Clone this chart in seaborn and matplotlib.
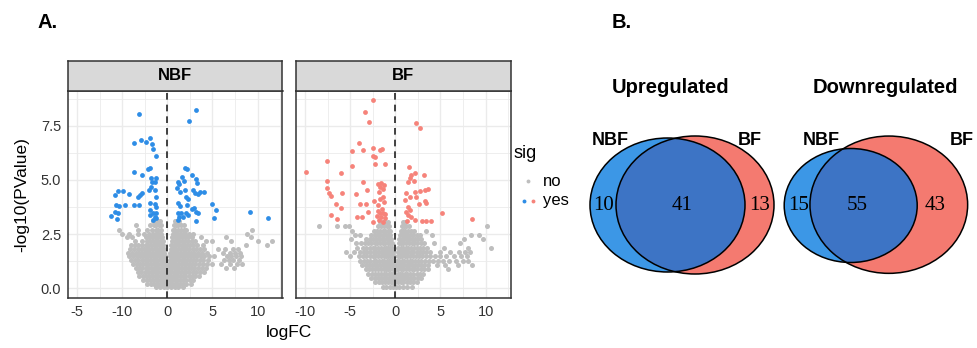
import matplotlib
matplotlib.use("Agg")
import matplotlib.pyplot as plt
import pandas as pd
import seaborn as sns
from matplotlib.patches import Ellipse
from matplotlib.lines import Line2D

sns.set_style("white")
plt.rcParams["font.family"] = ["Liberation Sans", "DejaVu Sans"]
plt.rcParams["text.color"] = "black"
plt.rcParams["axes.labelcolor"] = "black"

# ---------------- data ----------------
# significant genes (logFC, -log10 p)
NBF_YES_X = [-3.16, -3.71, -2.87, -2.32, -1.95, -1.69, -1.54, -1.21, -3.68, -2.79, -2.10, -1.95,
             -1.76, -1.29, -1.73, -1.40, -1.76, -1.40, -2.02, -1.21, -3.05, -3.20, -2.76, -4.19,
             -4.89, -5.44, -5.81, -4.71, -3.71, -3.13, -1.88, -1.40, -1.21, -5.63, -5.40, -5.74,
             -5.48, -6.25, -5.55, -1.95, -1.58, -1.40, -1.88, -1.21, -1.54, -1.29,
             3.16, 2.35, 1.95, 2.21, 1.65, 2.79, 1.21, 1.80, 3.13, 3.24, 1.29, 1.95, 2.90, 3.02,
             3.38, 3.64, 4.04, 1.07, 1.36, 2.10, 2.24, 1.21, 1.36, 2.21, 2.68, 3.20, 2.94, 3.42,
             1.14, 1.51, 2.02, 1.29, 1.73, 2.24, 1.21, 3.16, 5.00, 5.37, 5.15, 9.15, 11.10]
NBF_YES_Y = [8.07, 6.71, 6.87, 6.77, 6.93, 6.68, 6.44, 6.13, 5.37, 5.22, 5.51, 5.54,
             5.08, 5.09, 4.92, 4.92, 4.66, 4.54, 4.54, 4.23, 4.31, 4.23, 4.38, 4.35,
             4.49, 4.51, 4.29, 3.86, 3.86, 3.86, 3.92, 3.87, 3.73, 3.84, 3.80, 3.53,
             3.49, 3.33, 3.18, 3.61, 3.46, 3.30, 3.38, 3.23, 3.15, 3.46,
             8.24, 7.73, 5.54, 5.49, 5.12, 5.23, 4.92, 4.95, 5.03, 4.85, 4.81, 4.54, 4.54, 4.38,
             4.35, 4.43, 4.46, 4.61, 4.46, 4.23, 4.10, 3.92, 3.81, 3.84, 3.64, 3.53, 3.69, 3.49,
             3.46, 3.49, 3.49, 3.30, 3.30, 3.38, 3.15, 3.12, 3.89, 3.61, 3.24, 3.52, 3.24]

BF_YES_X = [-2.50, -3.38, -2.90, -4.01, -4.78, -3.57, -2.46, -1.73, -1.43, -2.43, -2.24, -2.24,
            -1.18, -7.57, -9.89, -4.85, -6.00, -7.61, -7.61, -7.35, -7.10, -5.92, -6.54, -6.07,
            -7.13, -6.43, -3.57, -3.09, -4.34, -3.90, -3.27, -2.39, -3.01, -4.19, -3.71, -2.50,
            -1.88, -1.54, -1.29, -1.73, -1.40, -1.84, -1.40, -1.69, -1.21, -1.88, -1.51, -1.95,
            -1.65, -1.32, -1.10, -2.02, -1.58, -1.10, -1.76, -1.40,
            2.28, 2.76, 1.51, 1.73, 2.17, 3.16, 1.58, 1.36, 2.02, 2.76, 3.24, 3.60, 2.21, 1.21,
            1.58, 2.28, 1.10, 3.24, 3.42, 2.61, 1.36, 1.65, 1.21, 1.43, 1.73, 2.21, 2.94, 3.38,
            3.93, 1.25, 5.15, 8.46]
BF_YES_Y = [8.70, 8.13, 7.67, 6.70, 6.34, 6.40, 6.48, 6.39, 6.42, 6.13, 6.08, 5.74,
            5.74, 5.90, 5.39, 5.65, 5.34, 4.95, 4.63, 4.41, 4.27, 4.41, 3.89, 3.69,
            3.40, 3.18, 4.89, 4.54, 4.35, 3.87, 3.87, 4.04, 3.53, 3.30, 3.30, 3.07,
            4.80, 4.85, 4.77, 4.69, 4.57, 4.43, 4.23, 4.10, 4.00, 3.84, 3.64, 3.55,
            3.46, 3.49, 3.43, 3.33, 3.30, 3.23, 3.15, 3.07,
            7.64, 7.42, 5.59, 5.23, 5.31, 5.22, 5.08, 4.92, 4.95, 4.51, 4.54, 4.60, 4.46, 4.41,
            4.23, 4.23, 4.07, 4.04, 3.92, 3.89, 3.77, 3.61, 3.53, 3.38, 3.27, 3.16, 3.12, 3.10,
            3.09, 3.12, 3.47, 3.19]

# non-significant genes, estimated row by row (-log10 p level, logFC values)
NBF_NO_ROWS = [
    (3.12, [-1.6, -1.3, -1.0, -0.8, 0.8, 1.0, 1.25]),
    (2.90, [-3.5, -1.9, -1.5, -1.2, -0.9, -0.7, 0.7, 0.95, 1.2, 1.5, 1.9]),
    (2.70, [-5.3, -3.3, -2.3, -1.7, -1.3, -1.0, -0.7, 0.65, 0.9, 1.2, 1.5, 1.8, 2.1, 9.4]),
    (2.52, [-5.0, -4.2, -3.2, -2.6, -2.0, -1.6, -1.3, -1.0, -0.7, 0.6, 0.85, 1.1, 1.4, 1.7, 2.0, 2.4, 2.8, 8.8]),
    (2.34, [-4.5, -3.9, -2.4, -2.0, -1.7, -1.4, -1.1, -0.8, -0.6, 0.55, 0.8, 1.05, 1.35, 1.65, 1.95, 2.3, 2.7, 3.75, 6.5, 9.3]),
    (2.17, [-3.6, -2.8, -2.2, -1.9, -1.6, -1.3, -1.0, -0.75, -0.5, 0.5, 0.8, 1.05, 1.35, 1.65, 1.95, 2.3, 2.7, 3.1, 4.3, 5.0, 7.1, 10.1, 11.65]),
    (2.00, [-4.0, -3.6, -3.2, -2.8, -2.4, -2.1, -1.8, -1.5, -1.2, -0.95, -0.7, -0.45, 0.45, 0.7, 1.0, 1.3, 1.6, 1.9, 2.2, 2.5, 2.9, 3.3, 3.9, 8.7, 11.0]),
    (1.82, [-4.1, -3.7, -3.3, -2.9, -2.6, -2.3, -2.0, -1.7, -1.4, -1.1, -0.85, -0.6, -0.4, 0.4, 0.65, 0.9, 1.2, 1.5, 1.8, 2.1, 2.4, 2.8, 3.2, 3.6, 4.1, 5.6, 6.4, 7.3, 7.8]),
    (1.64, [-4.3, -3.9, -3.5, -3.1, -2.8, -2.5, -2.2, -1.9, -1.6, -1.3, -1.05, -0.8, -0.55, -0.35, 0.35, 0.6, 0.85, 1.1, 1.4, 1.7, 2.0, 2.3, 2.65, 3.0, 3.4, 3.8, 4.4, 6.2, 6.9, 7.5, 8.0]),
    (1.46, [-4.2, -3.8, -3.4, -3.0, -2.7, -2.4, -2.1, -1.8, -1.5, -1.2, -0.95, -0.7, -0.5, -0.3, 0.3, 0.55, 0.8, 1.05, 1.35, 1.65, 1.95, 2.25, 2.6, 2.95, 3.3, 3.7, 4.1, 4.6, 5.2, 6.6, 7.1, 7.6, 8.2]),
    (1.28, [-4.0, -3.6, -3.2, -2.85, -2.5, -2.2, -1.9, -1.6, -1.35, -1.1, -0.85, -0.6, -0.4, -0.25, 0.25, 0.5, 0.75, 1.0, 1.3, 1.6, 1.9, 2.2, 2.5, 2.85, 3.2, 3.6, 4.0, 4.5, 6.3, 6.8, 7.3, 7.9]),
    (1.10, [-3.8, -3.4, -3.0, -2.7, -2.4, -2.1, -1.8, -1.5, -1.25, -1.0, -0.75, -0.5, -0.3, -0.15, 0.2, 0.4, 0.65, 0.9, 1.2, 1.5, 1.8, 2.1, 2.4, 2.75, 3.1, 3.5, 3.9, 4.4, 4.9, 6.0, 7.0, 7.7, 8.3]),
    (0.92, [-3.5, -3.1, -2.75, -2.4, -2.1, -1.8, -1.5, -1.25, -1.0, -0.75, -0.5, -0.3, -0.1, 0.1, 0.3, 0.55, 0.8, 1.05, 1.35, 1.65, 1.95, 2.3, 2.6, 3.0, 3.4, 3.8, 4.3, 6.5, 7.4]),
    (0.74, [-3.3, -2.9, -2.5, -2.15, -1.85, -1.55, -1.25, -1.0, -0.75, -0.5, -0.25, 0.0, 0.2, 0.45, 0.7, 0.95, 1.2, 1.5, 1.8, 2.1, 2.45, 2.8, 3.2, 3.6, 4.1]),
    (0.56, [-3.1, -2.7, -2.35, -2.0, -1.7, -1.4, -1.1, -0.85, -0.6, -0.35, -0.1, 0.1, 0.35, 0.6, 0.85, 1.1, 1.4, 1.7, 2.0, 2.35, 2.7, 3.1, 3.5]),
    (0.38, [-2.7, -2.3, -1.95, -1.6, -1.3, -1.0, -0.7, -0.45, -0.2, 0.0, 0.25, 0.5, 0.8, 1.1, 1.4, 1.75, 2.1, 2.5, 2.9]),
    (0.21, [-2.2, -1.8, -1.45, -1.1, -0.8, -0.5, -0.25, 0.0, 0.25, 0.5, 0.8, 1.1, 1.4, 1.75, 2.1, 2.6]),
    (0.05, [-1.2, -0.8, -0.4, 0.0, 0.4, 0.8, 1.2, 1.7]),
]

BF_NO_ROWS = [
    (3.05, [-1.7, -1.4, -1.1, -0.8, 0.85, 1.1]),
    (2.86, [-8.4, -6.5, -5.6, -5.1, -1.9, -1.55, -1.25, -0.95, -0.7, 0.7, 0.95, 1.2, 1.5, 10.2]),
    (2.66, [-4.8, -2.4, -2.0, -1.7, -1.4, -1.1, -0.8, -0.6, 0.6, 0.85, 1.1, 1.4, 1.75, 2.1, 3.4]),
    (2.47, [-4.5, -3.9, -2.7, -2.3, -1.95, -1.65, -1.35, -1.05, -0.75, -0.55, 0.55, 0.8, 1.05, 1.35, 1.65, 2.0, 2.35, 2.7, 4.1, 8.35, 9.3]),
    (2.27, [-4.9, -3.3, -2.8, -2.45, -2.1, -1.8, -1.5, -1.2, -0.9, -0.65, -0.45, 0.45, 0.7, 0.95, 1.25, 1.55, 1.85, 2.2, 2.55, 2.9, 7.6, 9.7]),
    (2.07, [-4.3, -3.8, -3.4, -3.0, -2.65, -2.3, -2.0, -1.7, -1.4, -1.1, -0.85, -0.6, -0.4, 0.4, 0.65, 0.9, 1.2, 1.5, 1.8, 2.1, 2.45, 2.8, 3.15, 4.3, 7.2]),
    (1.87, [-4.2, -3.6, -3.2, -2.85, -2.5, -2.2, -1.9, -1.6, -1.3, -1.05, -0.8, -0.55, -0.35, 0.35, 0.6, 0.85, 1.15, 1.45, 1.75, 2.05, 2.4, 2.75, 3.1, 3.5, 5.4, 8.0, 10.55]),
    (1.67, [-5.5, -4.6, -3.9, -3.5, -3.1, -2.75, -2.4, -2.1, -1.8, -1.5, -1.2, -0.95, -0.7, -0.5, -0.3, 0.3, 0.55, 0.8, 1.1, 1.4, 1.7, 2.0, 2.35, 2.7, 3.05, 3.45, 3.85, 5.0, 6.1, 7.0, 7.7, 8.3]),
    (1.47, [-5.0, -4.0, -3.6, -3.2, -2.85, -2.5, -2.2, -1.9, -1.6, -1.3, -1.05, -0.8, -0.55, -0.35, -0.2, 0.25, 0.5, 0.75, 1.05, 1.35, 1.65, 1.95, 2.3, 2.65, 3.0, 3.4, 3.8, 4.4, 4.9, 5.6, 6.5, 7.3, 7.9]),
    (1.27, [-3.9, -3.5, -3.1, -2.75, -2.4, -2.1, -1.8, -1.5, -1.2, -0.95, -0.7, -0.45, -0.25, 0.2, 0.45, 0.7, 1.0, 1.3, 1.6, 1.9, 2.2, 2.55, 2.9, 3.3, 3.7, 4.2, 4.7, 5.3, 6.0, 6.7, 7.5, 8.1]),
    (1.07, [-3.7, -3.3, -2.95, -2.6, -2.3, -2.0, -1.7, -1.4, -1.15, -0.9, -0.65, -0.4, -0.2, 0.15, 0.4, 0.65, 0.95, 1.25, 1.55, 1.85, 2.15, 2.5, 2.85, 3.2, 3.6, 4.6, 5.5, 6.9, 8.5]),
    (0.87, [-3.3, -2.9, -2.55, -2.2, -1.9, -1.6, -1.3, -1.05, -0.8, -0.55, -0.3, -0.1, 0.1, 0.35, 0.6, 0.9, 1.2, 1.5, 1.8, 2.1, 2.45, 2.8, 3.2, 3.6, 5.8]),
    (0.67, [-3.0, -2.6, -2.25, -1.9, -1.6, -1.3, -1.0, -0.75, -0.5, -0.25, 0.0, 0.25, 0.5, 0.75, 1.05, 1.35, 1.65, 2.0, 2.35, 2.7, 3.05]),
    (0.47, [-2.7, -2.3, -1.95, -1.6, -1.3, -1.0, -0.75, -0.5, -0.25, 0.0, 0.25, 0.5, 0.8, 1.1, 1.4, 1.75, 2.1, 2.5, 2.9]),
    (0.27, [-2.2, -1.8, -1.45, -1.1, -0.8, -0.5, -0.25, 0.0, 0.3, 0.6, 0.9, 1.25, 1.6, 2.0, 2.4]),
    (0.07, [-1.4, -1.0, -0.6, -0.25, 0.1, 0.45, 0.85, 1.3, 1.8]),
]

PANELS = ["NBF", "BF"]
NBF_XTICK_LABELS = ["-5", "-10", "0", "5", "10"]
BF_XTICK_LABELS = ["-10", "-5", "0", "5", "10"]
X_TICKS = [-10, -5, 0, 5, 10]
Y_TICKS = [0.0, 2.5, 5.0, 7.5]
Y_TICK_LABELS = ["0.0", "2.5", "5.0", "7.5"]

VENN_TITLES = ["Upregulated", "Downregulated"]
VENN_SETS = ["NBF", "BF"]
UP_COUNTS = [10, 41, 13]     # NBF only, both, BF only
DOWN_COUNTS = [15, 55, 43]

# ---------------- styling ----------------
GREY = "#BEBEBE"
BLUE = "#2E8DE6"
RED = "#F6837A"
V_BLUE = "#3C97E6"
V_RED = "#F47A70"
V_OVER = "#3D74C5"
DARK = "#333333"

W, H = 977, 348
fig = plt.figure(figsize=(W / 100, H / 100), dpi=100)


def build(rows, yes_x, yes_y):
    xs, ys = [], []
    for y, row in rows:
        xs += row
        ys += [y] * len(row)
    no = pd.DataFrame({"logFC": xs, "nlp": ys, "sig": "no"})
    yes = pd.DataFrame({"logFC": yes_x, "nlp": yes_y, "sig": "yes"})
    return pd.concat([no, yes], ignore_index=True)


data = {
    "NBF": build(NBF_NO_ROWS, NBF_YES_X, NBF_YES_Y),
    "BF": build(BF_NO_ROWS, BF_YES_X, BF_YES_Y),
}
colors = {"NBF": BLUE, "BF": RED}
xlabels = {"NBF": NBF_XTICK_LABELS, "BF": BF_XTICK_LABELS}
lefts = {"NBF": 68, "BF": 296}

for name in PANELS:
    L = lefts[name]
    ax = fig.add_axes([L / W, 1 - 298 / H, 214.5 / W, 207.3 / H])
    df = data[name]
    sns.scatterplot(data=df[df.sig == "no"], x="logFC", y="nlp", color=GREY, s=13,
                    linewidth=0, ax=ax, legend=False, zorder=3)
    sns.scatterplot(data=df[df.sig == "yes"], x="logFC", y="nlp", color=colors[name], s=12,
                    linewidth=0, ax=ax, legend=False, zorder=4)
    ax.axvline(0, color="#222222", ls=(0, (4, 3)), lw=1.2, zorder=5)
    ax.set_xlim(-11.0, 12.76)
    ax.set_ylim(-0.46, 9.13)
    ax.set_xticks(X_TICKS)
    ax.set_xticklabels(xlabels[name])
    ax.set_xticks([-7.5, -2.5, 2.5, 7.5, 12.5], minor=True)
    ax.set_yticks(Y_TICKS)
    ax.set_yticks([1.25, 3.75, 6.25, 8.75], minor=True)
    if name == "NBF":
        ax.set_yticklabels(Y_TICK_LABELS)
    else:
        ax.set_yticklabels([])
    ax.grid(True, which="major", color="#EBEBEB", lw=1.0)
    ax.grid(True, which="minor", color="#EBEBEB", lw=0.6)
    ax.set_axisbelow(True)
    ax.tick_params(which="major", length=3, width=0.8, color=DARK, labelsize=10.5,
                   labelcolor="#333333", pad=2)
    if name == "BF":
        ax.tick_params(axis="y", length=0)
    ax.tick_params(which="minor", length=0)
    for sp in ax.spines.values():
        sp.set_color(DARK)
        sp.set_linewidth(1.1)
    ax.set_xlabel("")
    ax.set_ylabel("")
    # strip
    st = fig.add_axes([L / W, 1 - 90.7 / H, 214.5 / W, 29.7 / H])
    st.set_facecolor("#D9D9D9")
    st.set_xticks([])
    st.set_yticks([])
    for sp in st.spines.values():
        sp.set_color(DARK)
        sp.set_linewidth(1.1)
    st.text(0.5, 0.5, name, ha="center", va="center", fontsize=12, fontweight="bold",
            color="black", transform=st.transAxes)

fig.text(22 / W, 1 - 195 / H, "-log10(PValue)", rotation=90, ha="center", va="center",
         fontsize=12.5, color="black")
fig.text(289 / W, 1 - 333 / H, "logFC", ha="center", va="center", fontsize=12.5, color="black")
fig.text(38 / W, 1 - 28.3 / H, "A.", ha="left", va="baseline", fontsize=14.5, fontweight="bold",
         color="black")
fig.text(611.7 / W, 1 - 27.7 / H, "B.", ha="left", va="baseline", fontsize=14.5,
         fontweight="bold", color="black")

# legend
fig.text(513 / W, 1 - 153 / H, "sig", ha="left", va="center", fontsize=13, color="black")
fig.text(543 / W, 1 - 181.5 / H, "no", ha="left", va="center", fontsize=12, color="black")
fig.text(543 / W, 1 - 201 / H, "yes", ha="left", va="center", fontsize=12, color="black")
for (px, py, c) in [(527.7, 181, GREY), (524, 201, BLUE), (533.3, 201, RED)]:
    fig.add_artist(Line2D([px / W], [1 - py / H], transform=fig.transFigure, marker="o",
                          markersize=2.8, color=c, markeredgewidth=0, ls="none"))

# ---------------- Venn diagrams ----------------
axv = fig.add_axes([520 / W, 0, (W - 520) / W, 1])
axv.set_xlim(520, W)
axv.set_ylim(H, 0)
axv.axis("off")

venn_geo = [
    dict(title=(671, 92.7), a=((667.5, 205), 155, 134), b=((695, 205), 158, 138),
         la=(610, 145), lb=(750, 145), nums=[603.3, 681.7, 760.0]),
    dict(title=(885.8, 92.7), a=((850.7, 205.5), 133, 114), b=((888.8, 204.7), 157.7, 137.3),
         la=(821.7, 145), lb=(961.7, 145), nums=[798.7, 856.7, 935.0]),
]
for title, counts, g in zip(VENN_TITLES, [UP_COUNTS, DOWN_COUNTS], venn_geo):
    ea = Ellipse(g["a"][0], g["a"][1], g["a"][2], facecolor=V_BLUE, edgecolor="none", zorder=1)
    eb = Ellipse(g["b"][0], g["b"][1], g["b"][2], facecolor=V_RED, edgecolor="none", zorder=1)
    axv.add_patch(ea)
    axv.add_patch(eb)
    ov = Ellipse(g["a"][0], g["a"][1], g["a"][2], facecolor=V_OVER, edgecolor="none", zorder=2)
    axv.add_patch(ov)
    ov.set_clip_path(eb)
    for (c, w, h) in [g["a"], g["b"]]:
        axv.add_patch(Ellipse(c, w, h, fill=False, edgecolor="black", lw=1.1, zorder=3))
    axv.text(g["title"][0], g["title"][1], title, ha="center", va="baseline", fontsize=14.5,
             fontweight="bold", color="black")
    axv.text(g["la"][0], g["la"][1], VENN_SETS[0], ha="center", va="baseline", fontsize=13,
             fontweight="bold", color="black")
    axv.text(g["lb"][0], g["lb"][1], VENN_SETS[1], ha="center", va="baseline", fontsize=13,
             fontweight="bold", color="black")
    for xpos, n in zip(g["nums"], counts):
        axv.text(xpos, 209.8, str(n), ha="center", va="baseline", fontsize=15, color="black",
                 family=["Liberation Serif", "DejaVu Serif"], zorder=4)

fig.savefig("out.png", dpi=100)
